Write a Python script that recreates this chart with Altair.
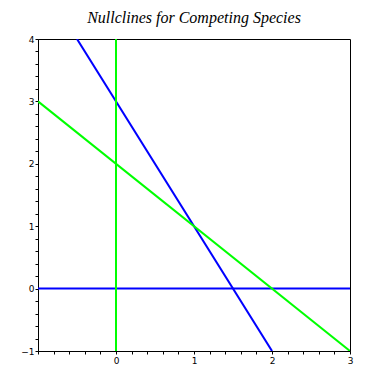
import altair as alt
import pandas as pd

# Nullcline segments (endpoints of each line)
series = ["b1", "b1", "b2", "b2", "g1", "g1", "g2", "g2"]
xs = [-1, 3, -0.5, 2, 0, 0, -1, 3]
ys = [0, 0, 4, -1, -1, 4, 3, -1]
colors = ["#0000ff", "#0000ff", "#0000ff", "#0000ff", "#00ff00", "#00ff00", "#00ff00", "#00ff00"]
order = [0, 1, 0, 1, 0, 1, 0, 1]

df = pd.DataFrame({"s": series, "x": xs, "y": ys, "c": colors, "o": order})

x_ticks = [round(-1 + 0.2 * i, 1) for i in range(21)]
y_ticks = [round(-1 + 0.2 * i, 1) for i in range(26)]

lab_y = "abs(datum.value - round(datum.value)) < 0.001 ? format(round(datum.value), 'd') : ''"
lab_x = "(abs(datum.value - round(datum.value)) < 0.001 && datum.value > -0.5) ? format(round(datum.value), 'd') : ''"

chart = alt.Chart(df).mark_line(strokeWidth=2, clip=True).encode(
    x=alt.X("x:Q", scale=alt.Scale(domain=[-1, 3], nice=False, zero=False),
            axis=alt.Axis(values=x_ticks, labelExpr=lab_x, grid=False, title=None,
                          tickSize=3, tickColor="black", domainColor="black",
                          labelFont="DejaVu Sans", labelFontSize=9, labelColor="black",
                          labelPadding=2, labelFlush=False, labelOverlap=False)),
    y=alt.Y("y:Q", scale=alt.Scale(domain=[-1, 4], nice=False, zero=False),
            axis=alt.Axis(values=y_ticks, labelExpr=lab_y, grid=False, title=None,
                          tickSize=3, tickColor="black", domainColor="black",
                          labelFont="DejaVu Sans", labelFontSize=9, labelColor="black",
                          labelPadding=1, labelFlush=False, labelOverlap=False)),
    color=alt.Color("c:N", scale=None),
    detail="s:N",
    order="o:O",
).properties(
    width=312, height=312,
    title=alt.Title("Nullclines for Competing Species", font="Liberation Serif",
                    fontStyle="italic", fontWeight="normal", fontSize=16,
                    color="black", anchor="middle", offset=9),
    autosize=alt.AutoSizeParams(type="none"),
    padding={"left": 30, "top": 31, "right": 25, "bottom": 25},
).configure_view(stroke="black", strokeWidth=1)

chart.save("out.html", embed_options={"renderer": "svg", "actions": False})
